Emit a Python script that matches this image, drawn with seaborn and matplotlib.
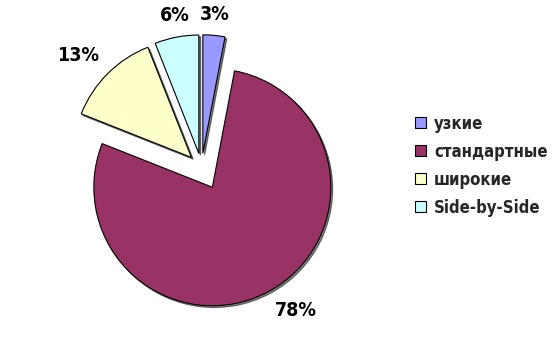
import numpy as np
import matplotlib
matplotlib.use("Agg")
import matplotlib.pyplot as plt
import seaborn as sns

categories = ["узкие", "стандартные", "широкие", "Side-by-Side"]
shares = [3, 78, 13, 6]
colors = ["#9999FF", "#993366", "#FFFFCC", "#CCFFFF"]
explode = [0.12, 0.19, 0.12, 0.12]

sns.set_theme(style="white")
plt.rcParams["font.family"] = ["DejaVu Sans"]

fig = plt.figure(figsize=(5.54, 3.45), dpi=100)
ax = fig.add_axes([0, 0, 1, 1])

wedges, texts, autotexts = ax.pie(
    shares, colors=colors, explode=explode, startangle=90, counterclock=False,
    autopct="%1.0f%%", pctdistance=1.1,
    wedgeprops=dict(edgecolor="black", linewidth=0.8),
    shadow=dict(ox=0.011, oy=-0.011, shade=1.0),
    textprops=dict(fontsize=14, fontweight="bold", fontstretch="condensed", color="black"),
)

# anchor each percentage label by its corner nearest to the slice
for w, t in zip(wedges, autotexts):
    mid = np.deg2rad(0.5 * (w.theta1 + w.theta2))
    c, s = np.cos(mid), np.sin(mid)
    t.set_ha("left" if c > 0.3 else ("right" if c < -0.3 else "center"))
    t.set_va("bottom" if s > 0.3 else ("top" if s < -0.3 else "center"))

r = 118.5
cx, cy = 201.5, 167.5
W, H = 554, 345
ax.set_xlim(-cx / r, (W - cx) / r)
ax.set_ylim(-(H - cy) / r, cy / r)
ax.set_aspect("auto")
ax.axis("off")

leg = ax.legend(
    wedges, categories, loc="center left",
    bbox_to_anchor=(415 / W, 1 - 165.5 / H), bbox_transform=fig.transFigure,
    frameon=False, borderpad=0, borderaxespad=0,
    handlelength=0.65, handleheight=0.65, handletextpad=0.5, labelspacing=0.6,
    prop=dict(size=12, weight="bold", stretch="condensed"),
)

fig.savefig("out.png", dpi=100)
